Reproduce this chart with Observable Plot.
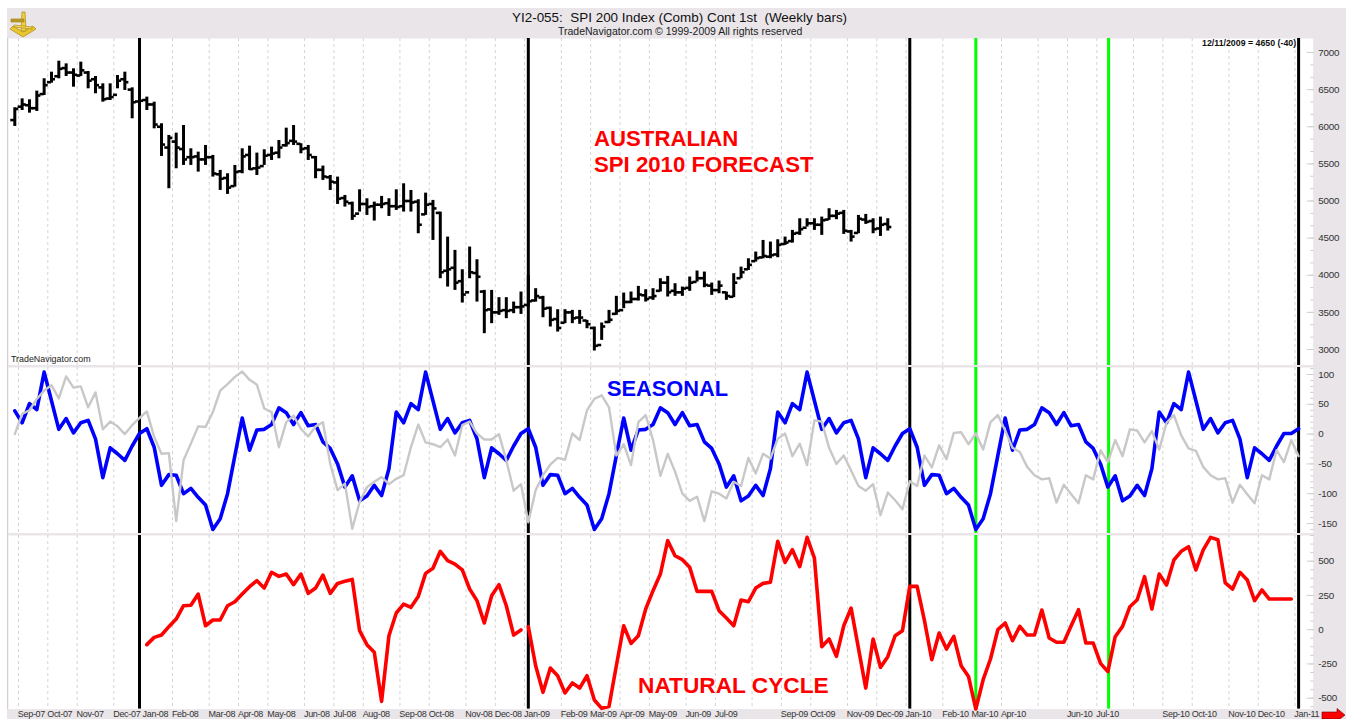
<!DOCTYPE html>
<html><head><meta charset="utf-8">
<script src="https://cdn.jsdelivr.net/npm/d3@7"></script>
<script src="https://cdn.jsdelivr.net/npm/@observablehq/plot@0.6"></script>
<style>
html,body{margin:0;padding:0;background:#fff;font-family:"Liberation Sans",Arial,sans-serif}
#page{position:relative;width:1346px;height:719px;overflow:hidden;background:#fff}
#bg{position:absolute;left:7px;top:8px;right:0;bottom:0;background:#e9e5e9}
.t{position:absolute;white-space:pre;line-height:1}
g[aria-label="text"]{letter-spacing:-0.32px}
g[aria-label="y-axis tick label"]{letter-spacing:-0.2px}
</style></head><body>
<div id="page"><div id="bg"></div></div>
<script>
// Weekly OHLC bars of the SPI 200 (week index = array position)
const high=[6255,6376,6363,6480,6646,6735,6883,6847,6780,6870,6744,6677,6578,6578,6690,6735,6524,6399,6399,6331,6040,5883,5914,6017,5703,5658,5748,5614,5412,5367,5479,5703,5739,5645,5690,5726,5815,5981,6017,5771,5748,5600,5470,5344,5322,5075,4985,5151,5030,4985,5062,5030,5151,5232,5142,5017,5106,5008,4851,4514,4335,4074,4380,4209,3796,3796,3698,3698,3639,3774,3998,3819,3716,3572,3536,3536,3527,3527,3392,3303,3357,3527,3716,3760,3774,3850,3805,3819,3953,3985,3886,3841,3976,4057,4043,3895,3922,3774,4021,4110,4222,4312,4469,4447,4478,4514,4604,4761,4761,4761,4783,4896,4873,4873,4604,4806,4819,4761,4783,4761];
const low=[6004,6219,6183,6206,6421,6587,6646,6677,6533,6677,6511,6444,6331,6354,6511,6489,6107,6242,6219,5972,5600,5165,5434,5479,5479,5389,5479,5322,5142,5089,5187,5367,5412,5344,5479,5546,5569,5726,5748,5636,5546,5300,5277,5142,4954,4918,4739,4851,4806,4730,4896,4792,4873,4851,4851,4559,4806,4469,3953,3841,3796,3626,3953,3639,3213,3348,3460,3415,3482,3473,3572,3639,3428,3303,3235,3348,3348,3339,3280,2980,3123,3348,3460,3550,3617,3653,3639,3662,3774,3707,3716,3716,3783,3908,3832,3729,3751,3662,3698,3953,4065,4178,4222,4222,4236,4402,4433,4537,4649,4604,4537,4739,4748,4550,4447,4559,4685,4559,4523,4595];
const open=[6090,6270,6290,6250,6440,6600,6680,6790,6730,6690,6730,6640,6530,6380,6430,6640,6500,6340,6360,6300,6000,5720,5800,5700,5590,5600,5560,5590,5360,5310,5200,5400,5620,5440,5470,5620,5650,5750,5810,5770,5710,5590,5420,5320,5250,5040,4970,4830,4960,4930,4950,4970,4930,4930,5000,4990,4820,4960,4840,4060,4100,3920,3770,4030,3780,3540,3500,3530,3530,3570,3600,3660,3700,3560,3410,3360,3500,3430,3390,3290,3060,3370,3480,3530,3640,3680,3730,3700,3790,3900,3790,3770,3830,3910,3960,3860,3800,3770,3710,3960,4080,4190,4240,4250,4280,4420,4460,4570,4640,4700,4680,4750,4800,4840,4590,4570,4750,4730,4630,4690];
const close=[6240,6300,6250,6420,6560,6640,6780,6730,6700,6760,6620,6560,6370,6400,6620,6600,6330,6350,6300,6030,5760,5850,5720,5560,5590,5560,5590,5370,5300,5180,5390,5600,5430,5450,5610,5640,5720,5780,5800,5700,5620,5420,5330,5260,5030,4990,4800,4960,4920,4950,4960,4930,4920,5000,4980,4680,4950,4900,4040,4080,3900,3740,4040,3980,3530,3500,3520,3520,3570,3580,3650,3720,3550,3400,3290,3500,3420,3430,3340,3050,3310,3400,3520,3640,3680,3740,3680,3720,3900,3770,3770,3820,3900,3960,3870,3800,3860,3720,3900,4040,4140,4230,4260,4270,4410,4440,4560,4620,4700,4680,4740,4800,4830,4600,4520,4760,4720,4620,4680,4650];
// Seasonal (blue) and prior seasonal (grey)
const seasonal=[39,19,51,41,104,56,8,26,2,19,23,-8,-73,-23,-33,-44,-20,1,9,-22,-86,-68,-69,-100,-91,-106,-119,-160,-142,-100,-36,27,-27,7,8,16,44,36,16,36,14,16,-13,-24,-50,-89,-70,-112,-104,-86,-103,-58,37,19,51,41,104,56,8,26,2,19,23,-8,-73,-23,-33,-44,-20,1,9,-22,-86,-68,-69,-100,-91,-106,-119,-160,-142,-100,-36,27,-27,7,8,16,44,36,16,36,14,16,-13,-24,-50,-89,-70,-112,-104,-86,-103,-58,37,19,51,41,104,56,8,26,2,19,23,-8,-73,-23,-33,-44,-20,1,9,-22,-86,-68,-69,-100,-91,-106,-119,-160,-142,-100,-36,27,-27,7,8,16,44,36,16,36,14,16,-13,-24,-50,-89,-70,-112,-104,-86,-103,-58,37,19,51,41,104,56,8,26,2,19,23,-8,-73,-23,-33,-44,-20,1,1,9];
const priorSeasonal=[0,34,40,59,73,82,60,97,78,80,45,70,8,21,13,0,15,27,38,-5,-33,-32,-146,-44,-16,13,12,37,73,84,96,105,91,83,43,37,-22,20,31,9,-4,13,20,-50,-94,-83,-159,-114,-89,-80,-72,-84,-75,-69,-22,16,-14,-17,-22,-9,-36,15,21,1,-9,-9,0,-44,-95,-84,-148,-94,-69,-51,-40,-43,1,-10,40,59,65,45,-36,-17,-52,20,32,-10,-70,-33,-63,-100,-112,-105,-146,-96,-100,-108,-80,-87,-40,-66,-33,-41,-8,1,-37,-16,-52,23,21,-23,-50,-36,-61,-87,-95,-84,-136,-98,-111,-126,-79,-87,-36,-56,-19,-42,2,3,-17,1,-26,20,32,6,-23,-30,-55,-69,-76,-74,-115,-85,-101,-116,-69,-76,-27,-47,-10,-37,8,6,-14,5,-26,19,32,-2,-24,-28,-55,-69,-76,-74,-115,-85,-101,-116,-69,-76,-27,-47,-10,-37];
// Natural cycle (red): the first year has no value until week 18; the line breaks before week 70
const cycleFirstWeek=18;
const cycleBreakWeek=70;
const naturalCycle=[-109,-56,-39,22,78,175,178,260,29,71,71,175,204,260,314,358,304,419,389,406,329,406,265,304,399,265,338,353,367,-7,-109,-165,-523,-44,122,187,163,243,411,448,572,504,479,436,297,212,49,248,329,175,-39,-2,22,-263,-457,-280,-336,-462,-389,-426,-336,-513,-574,-560,-263,29,-100,-44,151,285,406,650,540,511,455,280,280,280,139,85,29,217,204,304,338,346,645,491,584,460,674,523,-124,-68,-194,29,158,-134,-426,-68,-275,-197,-44,-7,316,316,66,-219,-24,-141,-49,-263,-341,-579,-365,-214,0,49,-80,24,-39,-39,144,-61,-92,-92,29,146,-97,-97,-246,-306,-51,24,168,219,387,151,406,326,509,572,606,436,582,674,657,341,297,419,363,212,290,224,224,224,224];
// Time axis
const monthWeeks=[0.5,4.5,8.5,13.5,17.5,21.5,26.5,30.5,34.5,39.5,43.5,47.5,52.5,56.5,61.5,65.5,69.5,74.5,78.5,82.5,86.5,91.5,95.5,100.5,104.5,108.5,113.5,117.5,121.5,126.5,130.5,134.5,139.5,143.5,147.5,152.5,156.5,160.5,165.5,169.5,174.5];
const monthLabels=["Sep-07","Oct-07","Nov-07","Dec-07","Jan-08","Feb-08","Mar-08","Apr-08","May-08","Jun-08","Jul-08","Aug-08","Sep-08","Oct-08","Nov-08","Dec-08","Jan-09","Feb-09","Mar-09","Apr-09","May-09","Jun-09","Jul-09","","Sep-09","Oct-09","Nov-09","Dec-09","Jan-10","Feb-10","Mar-10","Apr-10","","Jun-10","Jul-10","","Sep-10","Oct-10","Nov-10","Dec-10","Jan-11"];
const hiddenGrid=["Jan-08","Mar-10"];
const yearLines=[17,70,122,175];
const forecastLines=[131,149.1];
const priceTicks=[3000,3500,4000,4500,5000,5500,6000,6500,7000];
const seasonalTicks=[-150,-100,-50,0,50,100];
const cycleTicks=[-500,-250,0,250,500];

const bars=high.map((h,i)=>({i,h,l:low[i],o:open[i],c:close[i]}));
const line=a=>a.map((v,i)=>({i,v}));
const cycle=naturalCycle.map((v,k)=>{const i=k+cycleFirstWeek;return {i,v,seg:i<cycleBreakWeek?0:1};});
const gridWeeks=monthWeeks.filter((w,k)=>!hiddenGrid.includes(monthLabels[k]));
const FONT='"Liberation Sans",Arial,sans-serif';
const X0=14.3,DX=7.336;
const page=document.getElementById("page");

function panel({top,bottom,y,yTicks,minor,marks,marginBottom=0,labels=false}){
  const h=bottom-top+marginBottom;
  const p=Plot.plot({
    width:1346,height:h,
    marginLeft:8,marginRight:33.3,marginTop:0,marginBottom,
    style:{background:"transparent",fontFamily:FONT},
    x:{domain:[0,175],range:[X0,X0+175*DX],axis:null},
    y:{domain:y.domain,range:y.range.map(v=>v-top),axis:null},
    marks:[
      Plot.frame({fill:"#fff",stroke:null}),
      Plot.axisY({anchor:"right",ticks:minor,tickSize:3.5,dx:-3.5,text:null,label:null,stroke:"#cfcfcf"}),
      Plot.axisY({anchor:"right",ticks:yTicks,tickSize:7,dx:-7,text:null,label:null,stroke:"#cfcfcf"}),
      Plot.axisY({anchor:"right",ticks:yTicks,tickSize:0,tickPadding:5,label:null,fontSize:9.8,fill:"#333",tickFormat:d=>String(d)}),
      Plot.ruleX(gridWeeks,{x:d=>d,stroke:"#d4d4d4",strokeWidth:1,strokeDasharray:"3,3"}),
      Plot.ruleX(yearLines,{x:d=>d,stroke:"#000",strokeWidth:3}),
      Plot.ruleX(forecastLines,{x:d=>d,stroke:"#00ff00",strokeWidth:3}),
      ...marks,
      ...(labels?[Plot.text(monthWeeks.map((w,k)=>({w,t:monthLabels[k]})),{x:"w",text:"t",frameAnchor:"bottom",textAnchor:"start",lineAnchor:"bottom",dy:8.2,dx:-0.6,fontSize:9,fill:"#333"})]:[])
    ]
  });
  p.style.position="absolute";p.style.left="0";p.style.top=top+"px";
  page.appendChild(p);
}

// Left border of the chart
const bd=document.createElement("div");
bd.style.cssText="position:absolute;left:7px;top:38px;width:1px;height:671px;background:#d2ced2;z-index:3";
page.appendChild(bd);

panel({top:38,bottom:365,y:{domain:[3000,7000],range:[349,52]},yTicks:priceTicks,minor:d3.range(3000,7100,500/3),
  marks:[
    Plot.ruleX(bars,{x:"i",y1:"l",y2:"h",stroke:"#000",strokeWidth:3}),
    Plot.ruleY(bars,{y:"o",x1:d=>d.i-0.55,x2:"i",stroke:"#000",strokeWidth:2.6}),
    Plot.ruleY(bars,{y:"c",x1:"i",x2:d=>d.i+0.55,stroke:"#000",strokeWidth:2.6})
  ]});
panel({top:367,bottom:533,y:{domain:[-150,100],range:[523,374]},yTicks:seasonalTicks,minor:d3.range(-160,111,10),
  marks:[
    Plot.line(line(seasonal),{x:"i",y:"v",stroke:"#0000ff",strokeWidth:3.6,curve:"linear"}),
    Plot.line(line(priorSeasonal),{x:"i",y:"v",stroke:"#c8c8c8",strokeWidth:2.4,curve:"linear"})
  ]});
panel({top:535,bottom:708.6,marginBottom:10.4,labels:true,y:{domain:[-500,500],range:[697.7,560.7]},yTicks:cycleTicks,minor:d3.range(-562.5,700,62.5),
  marks:[
    Plot.line(cycle,{x:"i",y:"v",z:"seg",stroke:"#ff0000",strokeWidth:3.6,curve:"linear"})
  ]});

// Texts and decoration
function t(s,css){const d=document.createElement("div");d.className="t";d.textContent=s;d.style.cssText+=css+";z-index:5";page.appendChild(d);return d;}
t("YI2-055:  SPI 200 Index (Comb) Cont 1st  (Weekly bars)","left:512px;top:11px;font-size:13.45px;color:#111");
t("TradeNavigator.com © 1999-2009 All rights reserved","left:558px;top:26px;font-size:10.5px;color:#222");
t("12/11/2009 = 4650 (-40)","left:1202px;top:38.5px;font-size:8.8px;font-weight:bold;color:#111");
t("TradeNavigator.com","left:11px;top:355px;font-size:8.9px;color:#222");
t("AUSTRALIAN","left:594px;top:128px;font-size:22.2px;font-weight:bold;color:#ff0000");
t("SPI 2010 FORECAST","left:594px;top:154px;font-size:22.2px;font-weight:bold;color:#ff0000");
t("SEASONAL","left:607px;top:378px;font-size:21.8px;font-weight:bold;color:#0000ff");
t("NATURAL CYCLE","left:638px;top:674px;font-size:22.7px;font-weight:bold;color:#ff0000");

const deco=document.createElement("div");
deco.innerHTML=`<svg width="1346" height="719" style="position:absolute;left:0;top:0;z-index:6;pointer-events:none">
<g stroke="#a98a10" stroke-width="0.7">
<path d="M10 29 L23 37 L36 29 L33 26 L23 32 L13 26 Z" fill="#e8c531"/>
<path d="M22 12 L25 12 L26 31 L21 31 Z" fill="#f0d040"/>
<path d="M11 19 L24 19 L24 22 L11 22 Z" fill="#b8992a"/>
<path d="M14 25 L32 27 L32 29 L14 27 Z" fill="#f5dc60"/>
</g>
<path d="M1322 712 H1337 V708.5 L1345 715 L1340 719 H1322 Z" fill="#ff0000" stroke="#600" stroke-width="0.6"/>
</svg>`;
page.appendChild(deco);
</script>
</body></html>
